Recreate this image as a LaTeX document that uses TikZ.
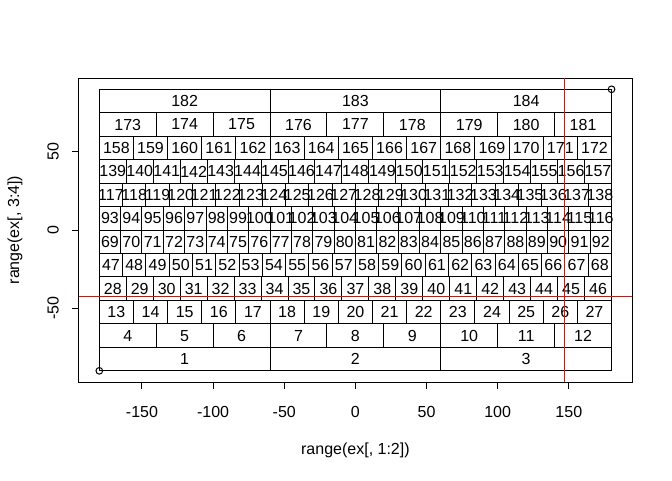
\documentclass[tikz,border=0pt]{standalone}
\usepackage{fontspec}
\setmainfont{Liberation Sans}
\usetikzlibrary{calc}

\begin{document}
\begin{tikzpicture}[x=1.0671pt, y=1.173pt, line width=0.75pt,
    font=\fontsize{12}{14}\selectfont,
    cell/.style={draw=black},
    celllabel/.style={inner sep=0pt, anchor=center},
    ticklabel/.style={inner sep=0pt, anchor=center},
    refline/.style={draw=red}]
    % ================= Parameters =================
    \def\XL{194.4}     % Half-width of plot region (data units)
    \def\YL{97.2}      % Half-height of plot region
    \def\TX{4.5}       % Tick length below x axis
    \def\TY{4.9}       % Tick length left of y axis
    \def\VX{147}       % Vertical red line
    \def\HY{-42.4}     % Horizontal red line

    % Canvas of the whole figure
    \path[use as bounding box] (-249.8, -159.8) rectangle (222.5, 147.1);

    % Corners of the plot region
    \coordinate (BL) at (-\XL, -\YL);
    \coordinate (TR) at (\XL, \YL);

    % ================= Plot region & Axes =================
    \draw (BL) rectangle (TR);

    % x axis ticks and labels
    \foreach \x [count=\i] in {-150,-100,...,150} {
        \draw (\x, -\YL) -- (\x, -\YL-\TX);
        \node[ticklabel] (xt\i) at (\x, -116.3) {\x};
    }
    \node[ticklabel] (xlab) at (0, -140.7) {range(ex[, 1:2])};

    % y axis ticks and labels (turned, as R does)
    \foreach \y [count=\i] in {-50,0,50} {
        \draw (-\XL, \y) -- (-\XL-\TY, \y);
        \node[ticklabel, rotate=90] (yt\i) at (-212.5, \y) {\y};
    }
    \node[ticklabel, rotate=90] (ylab) at (-239.3, 0) {range(ex[, 3:4])};

    % ================= Range points =================
    \draw (-180, -90) circle[radius=2.5pt];
    \draw (180, 90) circle[radius=2.5pt];

    % ================= Grid cells =================
    % cells per band / number of cells below the band
    \foreach \n/\s [count=\r] in {3/0, 9/3, 15/12, 19/27, 22/46, 24/68,
                                  24/92, 22/116, 19/138, 15/157, 9/172, 3/181} {
        \pgfmathsetmacro\yb{-90 + 15*(\r-1)}
        \pgfmathsetmacro\yt{\yb + 15}
        \pgfmathsetmacro\w{360/\n}
        \foreach \k in {1,...,\n} {
            \pgfmathsetmacro\xa{-180 + (\k-1)*\w}
            \pgfmathsetmacro\xb{\xa + \w}
            \pgfmathtruncatemacro\idx{\s + \k}
            \draw[cell] (\xa, \yb) rectangle (\xb, \yt);
            \node[celllabel] (c\idx) at ({(\xa+\xb)/2}, {(\yb+\yt)/2}) {\idx};
        }
    }

    % ================= Reference lines =================
    \coordinate (VB) at (\VX, -\YL);
    \coordinate (VT) at (\VX, \YL);
    \coordinate (HL) at (-\XL, \HY);
    \coordinate (HR) at (\XL, \HY);
    \draw[refline] (VB) -- (VT);
    \draw[refline] (HL) -- (HR);

\end{tikzpicture}
\end{document}
